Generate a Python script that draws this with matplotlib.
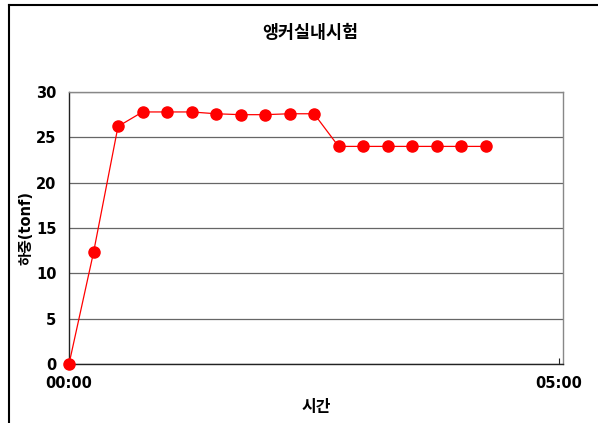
import matplotlib.pyplot as plt
from matplotlib.lines import Line2D

plt.rcParams['font.family'] = ['DejaVu Sans', 'Noto Sans CJK KR']

title = '앵커실내시험'
x_label = '시간'
y_label = '하중(tonf)'

times = ['00:00', '00:15', '00:30', '00:45', '01:00', '01:15', '01:30', '01:45', '02:00',
         '02:15', '02:30', '02:45', '03:00', '03:15', '03:30', '03:45', '04:00', '04:15']
loads = [0, 12.3, 26.2, 27.8, 27.8, 27.8, 27.6, 27.5, 27.5,
         27.6, 27.6, 24.0, 24.0, 24.0, 24.0, 24.0, 24.0, 24.0]
x_tick_labels = ['00:00', '05:00']


def toMinutes(t):
    h, m = t.split(':')
    return int(h) * 60 + int(m)


minutes = [toMinutes(t) for t in times]
tick_pos = [toMinutes(t) for t in x_tick_labels]

fig = plt.figure(figsize=(5.98, 4.23), dpi=100)
ax = fig.add_axes([0.1154, 0.1395, 0.8261, 0.643])

# frame of the chart area (cut off on the right and bottom)
fig.add_artist(Line2D([8.5 / 598, 8.5 / 598], [0, 1 - 5.5 / 423], transform=fig.transFigure, color='black', lw=1.5))
fig.add_artist(Line2D([8.5 / 598, 1], [1 - 5.5 / 423, 1 - 5.5 / 423], transform=fig.transFigure, color='black', lw=1.5))

ax.plot(minutes, loads, color='red', lw=0.9, marker='o', markersize=8,
        markerfacecolor='red', markeredgecolor='red', clip_on=False, zorder=3)

ax.set_xlim(0, 302.4)
ax.set_ylim(0, 30)
ax.set_yticks(range(0, 31, 5))
ax.set_xticks(tick_pos)
ax.set_xticklabels(x_tick_labels)

ax.grid(axis='y', color='#666666', linewidth=0.9)
ax.set_axisbelow(True)

for side in ['top', 'right']:
    ax.spines[side].set_color('#888888')
    ax.spines[side].set_linewidth(1.0)
for side in ['left', 'bottom']:
    ax.spines[side].set_color('#222222')
    ax.spines[side].set_linewidth(1.0)

ax.tick_params(axis='y', length=0, pad=9, labelsize=10.5)
ax.tick_params(axis='x', direction='in', length=4, width=0.8, color='#222222', pad=9, labelsize=10.5)
for lbl in ax.get_xticklabels() + ax.get_yticklabels():
    lbl.set_fontweight('bold')

ax.set_xlabel(x_label, fontsize=11.5, fontweight='bold', labelpad=6)
ax.set_ylabel(y_label, fontsize=10.5, fontweight='bold', labelpad=2)
fig.text(0.518, 1 - 33 / 423, title, ha='center', va='center', fontsize=12.5, fontweight='bold')

fig.savefig('out.png', dpi=100)
